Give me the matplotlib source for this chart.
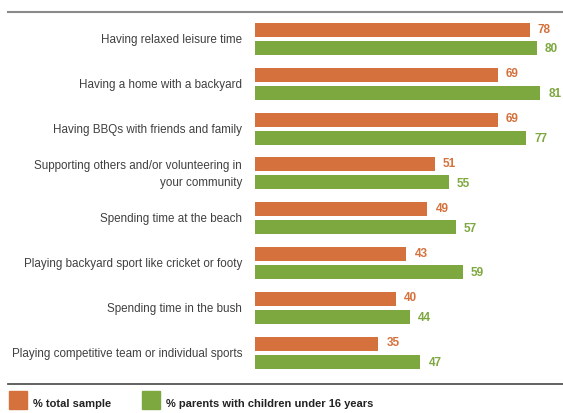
import numpy as np
import matplotlib.pyplot as plt
from matplotlib.patches import Rectangle
from matplotlib.lines import Line2D

plt.rcParams['font.family'] = ['Liberation Sans', 'DejaVu Sans']

categorias = [
    'Having relaxed leisure time',
    'Having a home with a backyard',
    'Having BBQs with friends and family',
    'Supporting others and/or volunteering in\nyour community',
    'Spending time at the beach',
    'Playing backyard sport like cricket or footy',
    'Spending time in the bush',
    'Playing competitive team or individual sports',
]
total_muestra = [78, 69, 69, 51, 49, 43, 40, 35]
padres = [80, 81, 77, 55, 57, 59, 44, 47]
series = ['% total sample', '% parents with children under 16 years']

naranja = '#D4713C'
verde = '#7DA73F'
gris_texto = '#404040'

# tamaño de figura en pixeles
W, H = 563, 414
fig = plt.figure(figsize=(W / 100, H / 100), dpi=100)

# eje: barras desde x=255 px, 3.52 px por unidad; grupos cada 44.8 px entre y=12 y y=384
paso = 44.8
ax_top, ax_bot = 12, 384
x_ini = 255
ax = fig.add_axes([x_ini / W, 1 - ax_bot / H, (W - x_ini) / W, (ax_bot - ax_top) / H])
ax.set_xlim(0, (W - x_ini) / 3.52)
y0 = (40 - ax_top) / paso
ax.set_ylim((ax_bot - ax_top) / paso - y0, -y0)
ax.axis('off')

alto = 14 / paso
desp = 9 / paso
pos = np.arange(len(categorias))

ax.barh(pos - desp, total_muestra, height=alto, color=naranja)
ax.barh(pos + desp, padres, height=alto, color=verde)

for p, a, b in zip(pos, total_muestra, padres):
    ax.text(a + 2.3, p - desp - 0.03, str(a), color=naranja, fontsize=8.5,
            fontweight='bold', va='center', ha='left')
    ax.text(b + 2.3, p + desp + 0.01, str(b), color=verde, fontsize=8.5,
            fontweight='bold', va='center', ha='left')

for p, c in zip(pos, categorias):
    ax.text(-13 / 3.52, p, c, color=gris_texto, fontsize=8.4, ha='right',
            va='center', linespacing=1.5)

# lineas superior e inferior
fig.add_artist(Line2D([8 / W, 1], [1 - 12.5 / H] * 2, color='#8a8a8a', lw=1.5))
fig.add_artist(Line2D([8 / W, 1], [1 - 384.5 / H] * 2, color='#555555', lw=1.3))

# leyenda
for x, col, txt in [(9, naranja, series[0]), (142, verde, series[1])]:
    fig.add_artist(Rectangle((x / W, 1 - 410 / H), 18 / W, 18 / H,
                             color=col, transform=fig.transFigure))
    fig.text((x + 24) / W, 1 - 404 / H, txt, fontsize=8, fontweight='bold',
             color='#222222', va='center', ha='left')

fig.savefig('out.png', dpi=100)
